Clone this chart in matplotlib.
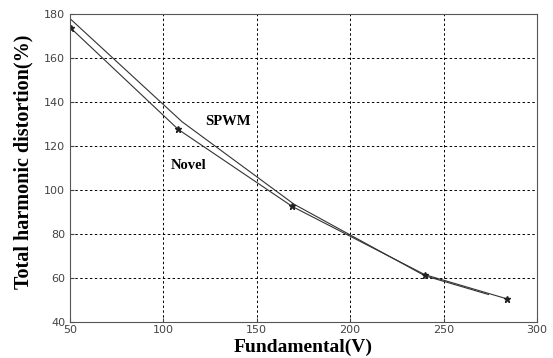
import matplotlib.pyplot as plt

# data
novel_x = [50.5, 108, 169, 240, 284]
novel_y = [173.5, 127.5, 92.5, 61.5, 50.5]
spwm_x = [50.5, 110, 170, 240, 274]
spwm_y = [177.5, 131, 93.5, 61, 52.5]

fig = plt.figure(figsize=(5.53, 3.58), dpi=100)
ax = fig.add_axes([0.1266, 0.1006, 0.8444, 0.8604])

ax.plot(spwm_x, spwm_y, color="#333333", lw=0.8)
ax.plot(novel_x, novel_y, color="#333333", lw=0.8, marker="*", ms=5,
        mfc="#222222", mec="#222222")

ax.set_xlim(50, 300)
ax.set_ylim(40, 180)
ax.set_xticks(range(50, 301, 50))
ax.set_yticks(range(40, 181, 20))
ax.grid(True, color="black", ls=(0, (2.5, 2.5)), lw=0.7)
ax.tick_params(labelsize=8, colors="#444444", length=3, direction="in")
ax.tick_params(axis="x", pad=2)
for s in ax.spines.values():
    s.set_color("#555555")
    s.set_linewidth(0.8)

serif = "Liberation Serif"
ax.text(134.5, 131, "SPWM", fontsize=10.5, fontweight="bold",
        family=serif, ha="center", va="center")
ax.text(113.5, 111, "Novel", fontsize=10.5, fontweight="bold",
        family=serif, ha="center", va="center")

ax.set_xlabel("Fundamental(V)", fontsize=14, fontweight="bold", family=serif)
ax.xaxis.set_label_coords(0.5, -0.083)
ax.xaxis.label.set_va("center")
ax.set_ylabel("Total harmonic distortion(%)", fontsize=14.5, fontweight="bold",
              family=serif)
ax.yaxis.set_label_coords(-0.1, 0.52)
ax.yaxis.label.set_va("center")

fig.savefig("out.png", dpi=100)
